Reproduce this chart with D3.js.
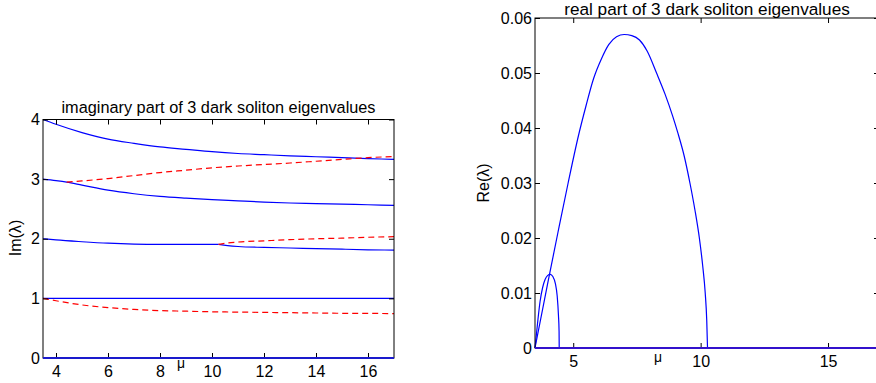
<!DOCTYPE html>
<html>
<head>
<meta charset="utf-8">
<script src="https://cdn.jsdelivr.net/npm/d3@7"></script>
<style>
  html, body { margin: 0; padding: 0; background: #fff; }
  svg { display: block; }
  text { font-family: "Liberation Sans", Arial, Helvetica, sans-serif; fill: #000; }
</style>
</head>
<body>
<svg id="chart" width="876" height="383"></svg>
<script>
// ---------- Data ----------
// Left panel: imaginary parts
const imBlueA_mu  = [3.5, 4, 5, 6, 7, 8, 9, 10, 11, 12, 13, 14, 15, 16, 17];
const imBlueA_val = [4.0, 3.92, 3.78, 3.67, 3.60, 3.54, 3.50, 3.46, 3.43, 3.41, 3.39, 3.375, 3.36, 3.345, 3.33];

const imRedB_mu  = [4.41, 5, 6, 7, 8, 9, 10, 11, 12, 13, 14, 15, 16, 17];
const imRedB_val = [2.95, 2.97, 3.01, 3.06, 3.11, 3.15, 3.19, 3.22, 3.245, 3.27, 3.30, 3.33, 3.36, 3.38];

const imBlueC_mu  = [3.5, 4, 4.41, 5, 6, 7, 8, 9, 10, 11, 12, 13, 14, 15, 16, 17];
const imBlueC_val = [3.0, 2.975, 2.95, 2.90, 2.815, 2.755, 2.71, 2.68, 2.655, 2.635, 2.615, 2.60, 2.59, 2.58, 2.57, 2.56];

const imBlueD_mu  = [3.5, 4, 5, 6, 7, 8, 9, 10, 10.25];
const imBlueD_val = [2.0, 1.98, 1.95, 1.925, 1.91, 1.905, 1.905, 1.905, 1.905];

const imBlueD2_mu  = [10.25, 10.6, 11, 12, 13, 14, 15, 16, 17];
const imBlueD2_val = [1.905, 1.885, 1.87, 1.855, 1.845, 1.835, 1.825, 1.815, 1.81];

const imRedD3_mu  = [10.25, 10.6, 11, 12, 13, 14, 15, 16, 17];
const imRedD3_val = [1.905, 1.93, 1.945, 1.965, 1.985, 2.0, 2.01, 2.025, 2.035];

const imBlueE_mu  = [3.5, 17];
const imBlueE_val = [1.0, 1.0];

const imRedF_mu  = [3.5, 4, 5, 6, 7, 8, 9, 10, 11, 12, 13, 14, 15, 16, 17];
const imRedF_val = [1.0, 0.96, 0.89, 0.845, 0.815, 0.795, 0.785, 0.775, 0.77, 0.765, 0.76, 0.755, 0.75, 0.748, 0.745];

const imZero_mu  = [3.5, 17];
const imZero_val = [0, 0];

// Right panel: real parts
const reLarge_mu  = [3.5, 4.0, 4.4, 4.8, 5.2, 5.5, 5.8, 6.1, 6.4, 6.7, 7.0, 7.3, 7.6, 7.9, 8.27, 8.6, 8.9, 9.1, 9.35, 9.58, 9.78, 9.95, 10.08, 10.18, 10.24, 10.27];
const reLarge_val = [0, 0.0118, 0.021, 0.030, 0.0385, 0.044, 0.049, 0.0525, 0.0552, 0.0566, 0.057, 0.0568, 0.056, 0.054, 0.050, 0.0462, 0.0422, 0.0392, 0.035, 0.030, 0.025, 0.020, 0.015, 0.010, 0.005, 0];

const reSmall_mu  = [3.5, 3.6, 3.7, 3.8, 3.9, 4.0, 4.1, 4.2, 4.3, 4.37, 4.42, 4.445, 4.45];
const reSmall_val = [0, 0.0045, 0.0085, 0.011, 0.0125, 0.0132, 0.0134, 0.013, 0.0117, 0.0095, 0.006, 0.003, 0];

const reZero_mu  = [3.5, 17];
const reZero_val = [0, 0];

// Ticks & titles
const leftXTicks  = [4, 6, 8, 10, 12, 14, 16];
const leftYTicks  = [0, 1, 2, 3, 4];
const rightXTicks = [5, 10, 15];
const rightYTicks = [0, 0.01, 0.02, 0.03, 0.04, 0.05, 0.06];
const leftTitle  = "imaginary part of 3 dark soliton eigenvalues";
const rightTitle = "real part of 3 dark soliton eigenvalues";
const leftYLabel = "Im(λ)";
const rightYLabel = "Re(λ)";
const xLabel = "μ";

// ---------- Drawing ----------
const svg = d3.select("#chart");
const zip = (a, b) => a.map((v, i) => [v, b[i]]);

function panel(opts) {
  const g = svg.append("g");
  const x = d3.scaleLinear().domain(opts.xDomain).range([opts.left, opts.right]);
  const y = d3.scaleLinear().domain(opts.yDomain).range([opts.bottom, opts.top]);
  const tl = 5;

  // series
  const line = d3.line().x(d => x(d[0])).y(d => y(d[1])).curve(d3.curveMonotoneX);
  opts.series.forEach(s => {
    g.append("path")
      .attr("d", line(zip(s.mu, s.val)))
      .attr("fill", "none")
      .attr("stroke", s.color)
      .attr("stroke-width", s.width || 1.2)
      .attr("stroke-dasharray", s.dash || null);
  });

  // axes
  const fs = opts.fontSize;
  const bottom = g.append("g").attr("transform", `translate(0,${opts.bottom})`)
    .call(d3.axisBottom(x).tickValues(opts.xTicks).tickSizeInner(-tl).tickSizeOuter(0).tickPadding(8).tickFormat(d3.format("d")));
  const top = g.append("g").attr("transform", `translate(0,${opts.top})`)
    .call(d3.axisTop(x).tickValues(opts.xTicks).tickSizeInner(-tl).tickSizeOuter(0).tickFormat(""));
  const left = g.append("g").attr("transform", `translate(${opts.left},0)`)
    .call(d3.axisLeft(y).tickValues(opts.yTicks).tickSizeInner(-tl).tickSizeOuter(0).tickPadding(3).tickFormat(opts.yFormat));
  const right = g.append("g").attr("transform", `translate(${opts.right},0)`)
    .call(d3.axisRight(y).tickValues(opts.yTicks).tickSizeInner(-tl).tickSizeOuter(0).tickFormat(""));
  [bottom, top, left, right].forEach(a => {
    a.select(".domain").remove();
    a.selectAll("line").attr("stroke", "#000");
    a.selectAll("text").attr("font-size", fs).attr("fill", "#000")
      .attr("font-family", '"Liberation Sans", Arial, sans-serif');
  });

  // frame, then zero line on top
  g.append("rect").attr("x", opts.left).attr("y", opts.top)
    .attr("width", opts.right - opts.left).attr("height", opts.bottom - opts.top)
    .attr("fill", "none").attr("stroke", "#000").attr("stroke-width", 1);
  g.append("path")
    .attr("d", line(zip(opts.zero.mu, opts.zero.val)))
    .attr("fill", "none").attr("stroke", opts.zero.color).attr("stroke-width", 2.2);

  // title
  g.append("text").attr("x", (opts.left + opts.right) / 2).attr("y", opts.titleY)
    .attr("text-anchor", "middle").attr("font-size", opts.titleSize).text(opts.title);
  // y label
  g.append("text").attr("transform", `translate(${opts.yLabelX},${opts.yLabelY}) rotate(-90)`)
    .attr("text-anchor", "middle").attr("font-size", fs).text(opts.yLabel);
  // x label
  g.append("text").attr("x", opts.xLabelX).attr("y", opts.xLabelY)
    .attr("text-anchor", "middle").attr("font-size", fs - 2).text(xLabel);
}

panel({
  left: 43, right: 394, top: 119.5, bottom: 358,
  xDomain: [3.5, 17], yDomain: [0, 4],
  xTicks: leftXTicks, yTicks: leftYTicks, yFormat: d3.format("d"),
  fontSize: 16, titleSize: 16.3, titleY: 113, title: leftTitle,
  yLabel: leftYLabel, yLabelX: 21, yLabelY: 238,
  xLabelX: 181, xLabelY: 368,
  zero: { mu: imZero_mu, val: imZero_val, color: "#1a1acc" },
  series: [
    { mu: imBlueA_mu, val: imBlueA_val, color: "#0000ff" },
    { mu: imBlueC_mu, val: imBlueC_val, color: "#0000ff" },
    { mu: imBlueD_mu, val: imBlueD_val, color: "#0000ff" },
    { mu: imBlueD2_mu, val: imBlueD2_val, color: "#0000ff" },
    { mu: imBlueE_mu, val: imBlueE_val, color: "#0000ff" },
    { mu: imRedB_mu, val: imRedB_val, color: "#ff0000", dash: "6,4" },
    { mu: imRedD3_mu, val: imRedD3_val, color: "#ff0000", dash: "6,4" },
    { mu: imRedF_mu, val: imRedF_val, color: "#ff0000", dash: "6,4" }
  ]
});

panel({
  left: 535, right: 879, top: 18, bottom: 348,
  xDomain: [3.5, 17], yDomain: [0, 0.06],
  xTicks: rightXTicks, yTicks: rightYTicks, yFormat: d => d === 0 ? "0" : d3.format(".2f")(d),
  fontSize: 16, titleSize: 17.2, titleY: 15, title: rightTitle,
  yLabel: rightYLabel, yLabelX: 489, yLabelY: 183,
  xLabelX: 658, xLabelY: 362,
  zero: { mu: reZero_mu, val: reZero_val, color: "#3311cc" },
  series: [
    { mu: reLarge_mu, val: reLarge_val, color: "#0000ff" },
    { mu: reSmall_mu, val: reSmall_val, color: "#0000ff" }
  ]
});
</script>
</body>
</html>
